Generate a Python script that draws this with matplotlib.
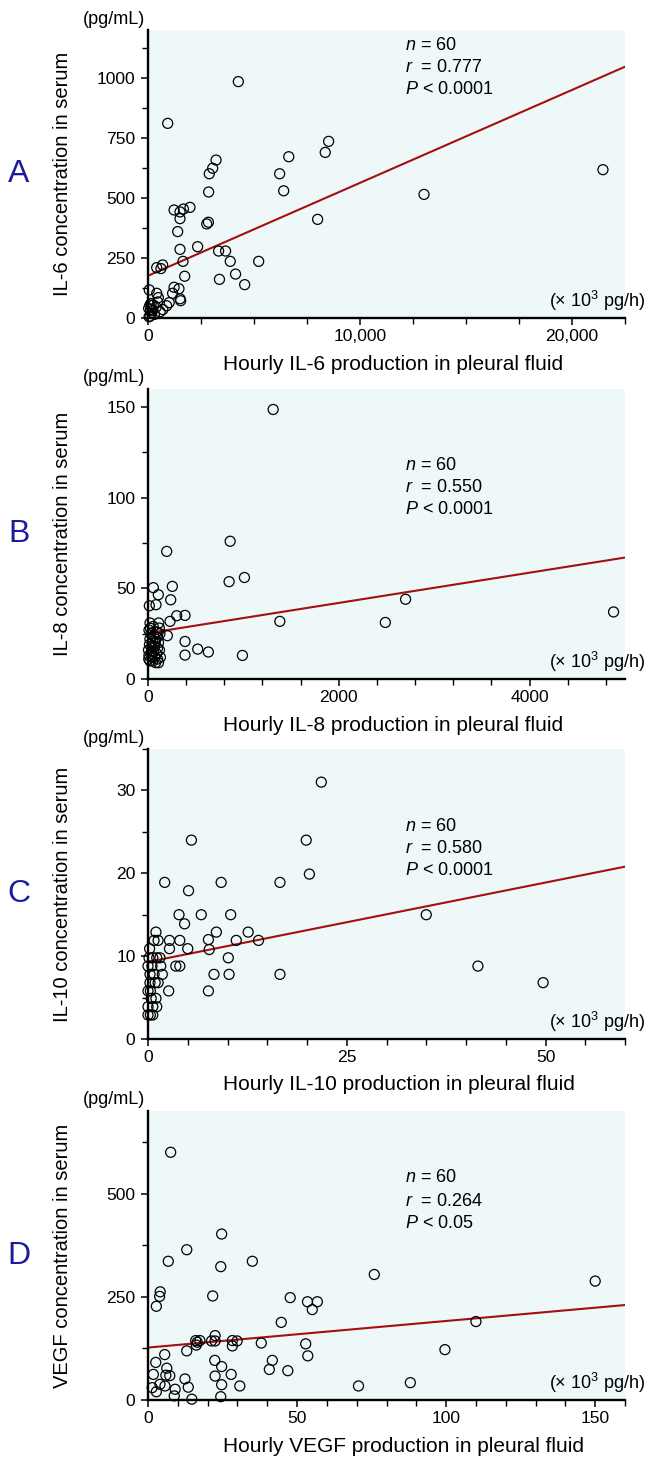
import matplotlib
matplotlib.use("Agg")
import matplotlib.pyplot as plt
from matplotlib.ticker import MultipleLocator, FuncFormatter

plt.rcParams["font.family"] = ["Liberation Sans", "DejaVu Sans"]
plt.rcParams["mathtext.fontset"] = "custom"
plt.rcParams["mathtext.rm"] = "Liberation Sans"
plt.rcParams["mathtext.it"] = "Liberation Sans:italic"

# ---------------------------------------------------------
# data
# ---------------------------------------------------------
# A: IL-6  (x: 10^3 pg/h, y: pg/mL)
il6_x = [4260, 930, 8520, 8360, 6640, 6210, 6400, 8000, 3210, 3050,
         2890, 2860, 2850, 2770, 1230, 1510, 1670, 1980, 1510, 1400,
         1510, 2340, 3330, 3660, 3880, 5220, 1650, 3370, 4130, 4560,
         1730, 410, 690, 610, 1230, 1460, 1160, 1510, 1540, 60,
         410, 490, 460, 1000, 880, 90, 250, 570, 170, 100,
         13020, 21460, 30, 120, 200, 300, 50, 380, 700, 150]
il6_y = [985, 811, 736, 690, 672, 601, 530, 411, 658, 624,
         601, 525, 399, 392, 450, 442, 454, 461, 414, 360,
         286, 297, 279, 279, 236, 236, 236, 161, 183, 139,
         174, 210, 221, 206, 128, 122, 103, 80, 72, 117,
         103, 85, 67, 64, 51, 54, 54, 26, 20, 8,
         515, 618, 40, 35, 30, 15, 5, 45, 35, 60]
il6_line = (176, 1047)

# B: IL-8
il8_x = [1312, 861, 850, 1011, 1382, 2488, 990, 196, 56, 255,
         108, 238, 14, 84, 301, 388, 231, 388, 388, 521,
         633, 203, 112, 119, 21, 2700, 4880,
         10, 30, 60, 90, 20, 50, 80, 110, 15, 40,
         70, 100, 5, 35, 60, 90, 120, 10, 40, 70,
         100, 20, 50, 80, 110, 25, 55, 125, 130, 8,
         45, 75, 95]
il8_y = [148.7, 76, 53.7, 56, 31.8, 31.2, 13, 70.4, 50.4, 51.1,
         46.5, 43.7, 40.4, 41, 34.9, 35.1, 31.8, 20.7, 13.2, 16.5,
         14.9, 23.9, 30.9, 28.1, 30.9, 44, 37,
         27, 25, 24, 26, 22, 21, 22, 20, 19, 18,
         18, 17, 16, 15, 15, 14, 16, 13, 12, 12,
         11, 10, 10, 9, 9, 28, 29, 25, 12, 11,
         14, 20, 23]
il8_line = (25.3, 67)

# C: IL-10
il10_x = [21.8, 5.46, 19.9, 20.3, 16.6, 2.1, 5.1, 9.2, 3.9, 6.7,
          10.4, 4.6, 8.6, 12.6, 1.0, 0.76, 1.27, 2.7, 4.0, 7.6,
          11.1, 13.9, 2.7, 5.0, 7.7, 10.1, 0.13, 0.6, 1.1, 3.5,
          4.0, 0.0, 1.6, 1.8, 0.25, 0.76, 8.3, 10.2, 16.6, 0.25,
          1.27, 2.6, 7.6, 0.0, 0.3, 1.0, 0.0, 1.1, 0.0, 0.3,
          0.6, 35.0, 41.5, 49.7, 0.5, 0.9, 0.4, 0.6, 0.2, 1.5]
il10_y = [31, 24, 24, 19.9, 18.9, 18.9, 17.9, 18.9, 15, 15,
          15, 13.9, 12.9, 12.9, 12.9, 11.9, 11.9, 11.9, 11.9, 12,
          11.9, 11.9, 10.9, 10.9, 10.8, 9.8, 9.8, 9.8, 9.8, 8.8,
          8.8, 8.8, 8.8, 7.8, 7.8, 7.8, 7.8, 7.8, 7.8, 6.8,
          6.8, 5.8, 5.8, 5.8, 5.8, 4.9, 3.9, 3.9, 2.9, 2.9,
          2.9, 15, 8.8, 6.8, 8.8, 6.8, 4.9, 3.9, 10.9, 9.8]
il10_line = (9.3, 20.8)

# D: VEGF
vegf_x = [7.6, 24.7, 13.0, 6.8, 35.0, 24.4, 75.9, 4.1, 3.9, 2.8,
          21.7, 47.7, 53.5, 56.8, 55.1, 44.7, 22.5, 16.0, 17.4, 21.3,
          22.5, 28.3, 29.9, 16.2, 28.3, 38.0, 52.9, 53.6, 13.0, 5.6,
          99.6, 2.6, 22.4, 41.7, 6.3, 24.7, 40.7, 46.9, 1.8, 7.3,
          12.4, 22.5, 27.9, 4.0, 5.7, 13.5, 24.7, 30.8, 70.6, 88.0,
          1.4, 2.8, 9.1, 8.8, 14.7, 24.4, 110, 150, 6.0, 16.5]
vegf_y = [600, 402, 364, 336, 336, 323, 304, 262, 251, 227,
          252, 248, 238, 238, 219, 188, 156, 144, 144, 143,
          143, 144, 143, 133, 131, 138, 136, 107, 119, 110,
          122, 91, 96, 96, 77, 81, 74, 71, 62, 59,
          51, 58, 62, 38, 34, 31, 37, 34, 34, 42,
          30, 20, 26, 10, 2, 8, 190, 288, 60, 140]
vegf_line = (127, 230)

panel_letters = ["A", "B", "C", "D"]
cytokines = ["IL-6", "IL-8", "IL-10", "VEGF"]
r_values = ["0.777", "0.550", "0.580", "0.264"]
p_values = ["< 0.0001", "< 0.0001", "< 0.0001", "< 0.05"]
n_value = 60

# ---------------------------------------------------------
# layout (pixels of a 646 x 1465 canvas)
# ---------------------------------------------------------
W, H = 646, 1465
AX_LEFT, AX_RIGHT = 148, 625
AX_TOPS = [30, 389, 749, 1111]
AX_BOTTOMS = [318, 679, 1039, 1400]
STAT_ROWS = [(15, 38, 60), (76, 99, 121), (77, 99, 121), (67, 91, 112)]

BG = "#eef8f9"
LINE_COLOR = "#a50f0f"
LETTER_COLOR = "#1c1c9a"

fig = plt.figure(figsize=(W / 100, H / 100), dpi=100)


def thousands(v, pos):
    return f"{int(v):,}"


def draw_panel(ax, x, y, line, xlim, ylim, xmaj, xmin_, ymaj, ymin_, idx, xfmt=None):
    ax.set_facecolor(BG)
    for s in ["top", "right"]:
        ax.spines[s].set_visible(False)
    for s in ["left", "bottom"]:
        ax.spines[s].set_linewidth(1.7)
        ax.spines[s].set_zorder(3)

    ax.plot(xlim, line, color=LINE_COLOR, lw=1.5, zorder=2)
    ax.scatter(x, y, s=52, facecolors="none", edgecolors="black",
               linewidths=0.9, zorder=4, clip_on=False)

    ax.set_xlim(*xlim)
    ax.set_ylim(*ylim)
    ax.xaxis.set_major_locator(MultipleLocator(xmaj))
    ax.xaxis.set_minor_locator(MultipleLocator(xmin_))
    ax.yaxis.set_major_locator(MultipleLocator(ymaj))
    ax.yaxis.set_minor_locator(MultipleLocator(ymin_))
    if xfmt is not None:
        ax.xaxis.set_major_formatter(FuncFormatter(xfmt))
    ax.tick_params(which="major", length=5, width=1.1, labelsize=12.6, pad=3)
    ax.tick_params(which="minor", length=4, width=1.0)
    ax.tick_params(axis="y", which="major", pad=4)

    hpx = AX_BOTTOMS[idx] - AX_TOPS[idx]
    wpx = AX_RIGHT - AX_LEFT
    name = cytokines[idx]

    ax.set_ylabel(f"{name} concentration in serum", fontsize=14.5)
    ax.yaxis.set_label_coords(-(AX_LEFT - 72) / wpx, 0.5)
    ax.text((223 - AX_LEFT) / wpx, -46 / hpx,
            f"Hourly {name} production in pleural fluid",
            transform=ax.transAxes, ha="left", va="center", fontsize=15)

    ax.text(-3 / wpx, 1 + 11 / hpx, "(pg/mL)", transform=ax.transAxes,
            ha="right", va="center", fontsize=13)
    ax.text((645 - AX_LEFT) / wpx, 17 / hpx, r"(× 10$^{3}$ pg/h)",
            transform=ax.transAxes, ha="right", va="center", fontsize=13)

    rows = STAT_ROWS[idx]
    sx = (405 - AX_LEFT) / wpx
    stats = [f"$n$ = {n_value}", f"$r$  = {r_values[idx]}", f"$P$ {p_values[idx]}"]
    for txt, off in zip(stats, rows):
        ax.text(sx, 1 - off / hpx, txt, transform=ax.transAxes,
                ha="left", va="center", fontsize=13)

    cy = (AX_TOPS[idx] + AX_BOTTOMS[idx]) / 2
    fig.text(19 / W, 1 - cy / H, panel_letters[idx], ha="center", va="center",
             fontsize=23, color=LETTER_COLOR)


panels = [
    (il6_x, il6_y, il6_line, (0, 22500), (0, 1200), 10000, 2500, 250, 125, thousands),
    (il8_x, il8_y, il8_line, (0, 5000), (0, 160), 2000, 400, 50, 25, None),
    (il10_x, il10_y, il10_line, (0, 60), (0, 35), 25, 5, 10, 5, None),
    (vegf_x, vegf_y, vegf_line, (0, 160), (0, 700), 50, 10, 250, 125, None),
]

for i, p in enumerate(panels):
    top, bot = AX_TOPS[i], AX_BOTTOMS[i]
    ax = fig.add_axes([AX_LEFT / W, 1 - bot / H, (AX_RIGHT - AX_LEFT) / W, (bot - top) / H])
    x, y, line, xlim, ylim, xmaj, xmin_, ymaj, ymin_, xfmt = p
    draw_panel(ax, x, y, line, xlim, ylim, xmaj, xmin_, ymaj, ymin_, i, xfmt)

fig.savefig("out.png", dpi=100, facecolor="white")
